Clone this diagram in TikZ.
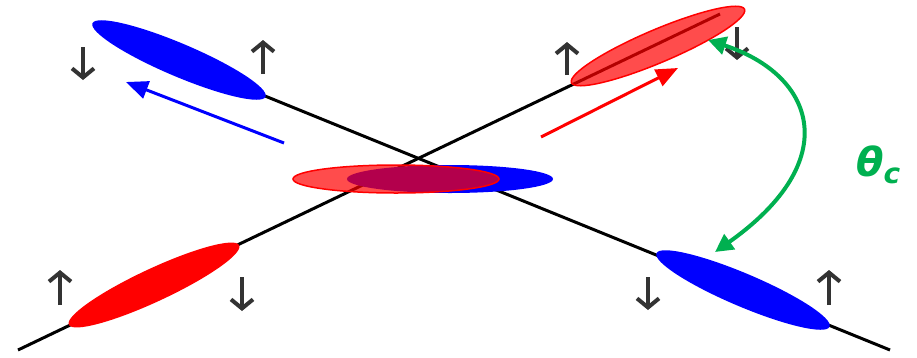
\documentclass[tikz,border=0pt]{standalone}
\usepackage{fontspec}
\newfontfamily\anglefont{DejaVu Sans}
\usetikzlibrary{shapes.geometric, arrows.meta}
\definecolor{spingray}{RGB}{51,51,51}
\definecolor{anglegreen}{RGB}{0,176,80}
\tikzset{
    track/.style={line width=3pt, black},
    jet/.style={ellipse, inner sep=0pt, minimum width=188pt, minimum height=33pt},
    bluejet/.style={jet, fill=blue},
    redjet/.style={jet, fill=red},
    glassjet/.style={jet, fill=red, fill opacity=0.7, draw=red, line width=1.5pt},
    spinarrow/.style={-{Straight Barb[length=9pt, width=22pt]}, line width=4pt, spingray},
    momentum/.style={-{Triangle[length=22pt, width=18pt]}, line width=3pt},
    anglearrow/.style={{Triangle[length=18pt, width=18pt]}-{Triangle[length=18pt, width=18pt]},
                       line width=4pt, anglegreen},
    anglelabel/.style={font=\anglefont\bfseries\itshape\fontsize{40}{44}\selectfont, text=anglegreen},
}

\begin{document}
\begin{tikzpicture}[x=1pt, y=-1pt]
    \useasboundingbox (0,0) rectangle (917,357);

    % the two tracks
    \coordinate (atop) at (265,96);
    \coordinate (abot) at (890,350);
    \coordinate (bbot) at (18,350);
    \coordinate (btop) at (720,14);
    \draw[track] (atop) -- (abot);
    \draw[track] (bbot) -- (btop);

    % outgoing beams
    \node[bluejet, rotate=-23] (bluein) at (179,60) {};
    \node[bluejet, rotate=-23] (blueout) at (743,290) {};
    \node[redjet, rotate=25] (redin) at (154,285) {};
    \node[glassjet, rotate=23] (redout) at (658,46) {};

    % overlap in the middle
    \node[bluejet, minimum width=206pt, minimum height=28pt] (bluemid) at (450,179) {};
    \node[glassjet, minimum width=206pt, minimum height=28pt] (redmid) at (396,179) {};

    % momenta
    \coordinate (bluetail) at (284,143);
    \coordinate (bluehead) at (126,82);
    \coordinate (redtail) at (541,137);
    \coordinate (redhead) at (678,68);
    \draw[momentum, blue] (bluetail) -- (bluehead);
    \draw[momentum, red] (redtail) -- (redhead);

    % spins
    \foreach \x/\ya/\yb in {263/74/40, 567/75/42, 60/305/270, 829/305/270,
                            83/47/80, 737/27/60, 242/277/311, 648/277/310}
        \draw[spinarrow] (\x,\ya) -- (\x,\yb);

    % crossing angle
    \coordinate (angtop) at (708,40);
    \coordinate (angbot) at (715,252);
    \draw[anglearrow] (angtop) .. controls (815,75) and (845,160) .. (angbot);
    \node[anglelabel, anchor=west, inner sep=0pt] (theta) at (856,165) {θ\textsubscript{c}};

\end{tikzpicture}
\end{document}
